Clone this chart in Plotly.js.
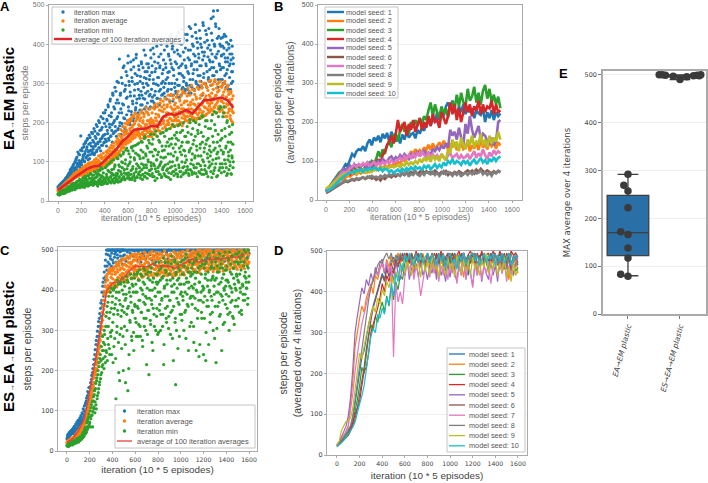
<!DOCTYPE html>
<html>
<head>
<meta charset="utf-8">
<script src="https://cdn.plot.ly/plotly-3.0.1.min.js"></script>
<style>html,body{margin:0;padding:0;background:#fff}</style>
</head>
<body>
<div id="plot" style="width:708px;height:483px"></div>
<script>
// panel A, one value every 5 iterations, the *2 arrays sit halfway between
const aMax = [36,33,38,41,35,44,39,47,42,50,45,53,48,58,52,61,55,66,59,72,
63,80,68,74,86,70,92,77,84,100,79,108,88,96,125,90,103,118,94,166,
98,128,105,114,138,102,120,148,110,132,156,116,125,145,108,162,128,140,120,172,
132,150,118,178,140,160,126,190,146,170,135,200,152,128,182,160,142,210,168,150,
225,158,190,140,205,172,240,155,196,255,165,215,180,150,270,200,175,235,190,280,
165,305,215,185,250,362,200,275,170,225,300,190,245,345,210,285,178,262,320,205,
370,230,295,195,268,335,220,305,248,360,212,283,325,238,374,260,300,225,345,270,
232,318,280,350,245,300,262,385,235,330,275,312,350,250,295,340,268,320,240,365,
285,345,255,310,375,270,330,240,298,395,262,352,315,280,340,260,375,300,410,272,
335,290,385,265,350,310,405,280,328,375,300,255,360,425,285,340,395,270,320,380,
300,410,275,350,385,295,430,325,265,370,345,400,285,320,415,305,360,280,390,340,
295,425,330,385,275,360,310,440,345,290,400,325,375,285,355,450,305,415,335,390,
295,365,435,320,400,345,290,380,455,315,370,405,300,350,425,330,390,310,440,360,
305,385,465,340,410,355,485,320,395,368,445,330,375,486,310,420,350,400,335,415,
372,310,418,340,390,300,365,420,325,385,355,295,400,345,375,285,360,330,395,305,350];
const aMax2 = [32,37,40,36,43,38,46,41,49,44,52,47,56,50,60,54,64,58,69,62,
66,76,71,82,65,88,74,95,81,70,104,85,112,92,78,120,98,86,130,102,
92,135,108,118,145,100,126,152,112,138,160,105,128,168,118,148,130,175,125,155,
138,185,122,165,145,195,130,172,150,205,136,180,158,215,142,188,165,225,148,198,
170,232,152,208,180,245,160,218,188,260,166,225,195,275,172,240,205,290,178,250,
210,258,182,302,225,192,270,235,315,198,248,340,212,280,185,295,330,220,265,352,
240,305,200,278,355,228,315,255,205,342,268,298,232,365,250,320,215,285,335,262,
305,245,355,270,225,340,290,315,260,372,240,300,330,280,350,235,310,272,385,255,
328,265,390,300,250,355,280,338,405,262,315,295,368,245,345,285,400,270,325,305,
360,275,410,300,340,260,395,315,285,370,330,418,270,350,300,388,255,335,405,290,
355,280,420,310,265,375,340,295,402,325,270,438,350,290,380,315,425,285,345,300,
410,285,365,325,445,295,385,275,350,420,310,395,335,282,370,430,300,355,405,320,
375,290,345,415,305,392,270,360,448,325,380,300,435,345,290,410,368,315,398,335,
355,295,428,375,320,470,340,400,305,452,365,330,415,290,382,440,345,310,395,370,
340,395,300,375,425,320,355,290,405,335,365,285,390,315,350,410,300,375,330,365];
const aAvg = [26,30,28,33,31,29,35,38,34,40,37,42,39,45,41,48,44,50,47,52,
48,55,50,58,53,60,56,63,58,68,60,66,62,72,65,70,64,76,68,74,
70,80,66,84,74,78,68,88,76,82,72,92,78,86,74,95,82,78,90,84,
85,76,96,88,80,100,84,92,78,104,88,95,82,110,92,86,112,90,100,96,
98,88,116,104,92,122,100,110,95,128,108,118,98,135,112,105,140,118,125,110,
122,145,115,138,155,125,148,165,130,158,140,178,135,168,150,188,145,172,155,195,
148,200,165,185,152,205,170,192,158,215,175,198,162,222,182,170,210,178,195,165,
205,160,190,225,172,200,168,215,180,195,162,228,185,205,175,220,165,198,178,210,
165,225,190,205,172,235,180,212,195,165,240,188,220,200,178,250,195,230,210,185,
255,205,235,190,262,215,195,245,225,200,258,210,185,240,222,205,268,195,232,215,
190,250,225,205,272,215,238,195,260,222,200,245,212,275,198,235,218,255,205,228,
205,268,225,245,200,280,218,252,235,208,285,225,248,212,272,230,205,260,240,220,
212,285,235,262,215,295,245,225,275,255,218,300,238,268,222,290,250,232,305,242,
228,308,255,275,232,298,262,240,305,268,225,288,250,278,235,302,262,242,292,255,
290,232,270,250,300,225,285,240,265,215,295,245,272,230,255,210,280,235,260,200,225];
const aAvg2 = [28,25,31,29,34,32,36,33,39,36,43,38,46,42,49,45,51,48,55,50,
53,59,55,62,57,65,60,70,63,67,61,74,66,71,63,78,70,66,80,72,
75,83,70,87,78,73,90,80,75,93,84,77,97,80,88,74,98,85,79,100,
90,82,105,94,84,108,90,98,86,115,92,100,88,118,96,108,92,122,100,105,
112,95,126,108,100,130,114,96,136,120,104,142,116,126,108,148,122,132,114,152,
130,160,120,150,170,128,152,182,136,162,145,190,138,175,155,198,150,180,160,205,
172,155,208,180,160,212,188,165,218,195,170,225,178,205,168,215,185,175,220,192,
170,212,185,232,175,205,160,222,188,170,238,195,178,225,165,205,185,235,172,200,
205,175,238,198,185,245,170,222,205,190,248,180,215,232,195,258,175,240,205,228,
198,245,215,262,185,225,240,205,270,195,220,250,210,272,190,235,225,260,205,245,
235,210,265,195,240,280,205,228,255,200,268,235,192,282,222,250,210,275,232,215,
255,215,288,235,205,270,245,222,295,215,258,232,205,282,245,225,265,210,290,235,
248,225,305,232,270,212,288,250,228,300,240,262,218,295,255,235,282,225,270,248,
265,235,295,250,222,285,258,238,310,245,270,225,298,255,240,282,228,305,262,235,
255,295,225,278,240,305,215,265,248,290,225,280,235,258,218,275,205,245,228,268];
const aMin = [18,16,20,22,17,24,19,26,21,28,23,25,20,30,27,33,24,36,29,32,
26,38,30,42,28,35,44,32,40,30,46,36,34,50,38,42,35,55,40,48,
38,52,42,60,36,48,56,40,62,46,52,38,65,44,58,42,50,68,46,54,
40,66,50,58,44,72,48,62,38,70,54,46,78,52,42,64,82,50,60,45,
48,85,58,68,44,92,55,75,50,98,62,46,80,70,52,105,58,88,66,50,
55,110,70,48,92,62,118,75,52,100,85,60,125,72,56,95,130,68,82,58,
128,65,95,55,112,78,135,60,88,140,70,105,58,122,82,62,145,90,68,115,
75,58,130,95,150,68,110,85,160,62,120,92,140,70,105,155,78,125,65,98,
82,145,62,115,170,90,52,130,75,105,165,85,125,68,150,95,112,60,140,80,
175,88,130,65,112,180,78,150,95,60,140,185,85,120,70,160,100,135,75,190,
90,145,70,175,110,62,155,85,195,125,75,140,100,180,68,130,88,165,115,72,
105,190,80,150,65,130,200,95,170,75,120,145,205,85,110,165,70,140,95,180,
115,75,210,135,90,175,68,150,215,100,125,80,190,145,70,205,110,160,85,130,
90,185,125,60,220,105,150,78,195,135,95,225,120,65,170,110,235,85,155,130,
180,95,215,125,240,105,165,135,85,200,70,150,115,190,100,130,70,175,110,145,100];
const aMin2 = [17,19,15,21,18,23,20,22,25,19,27,24,29,22,26,31,28,34,25,37,
30,33,41,28,37,31,45,34,29,43,37,48,33,41,36,52,39,34,47,44,
41,36,58,45,50,35,63,43,55,41,48,66,39,58,45,70,42,52,60,47,
55,42,75,49,60,46,68,41,78,52,44,66,57,85,48,62,43,72,55,46,
58,50,88,62,45,78,53,95,60,48,72,102,55,66,50,82,46,92,60,70,
64,52,108,78,58,88,50,115,68,55,98,120,62,80,54,105,70,135,60,90,
72,120,58,100,68,138,55,82,128,64,110,52,142,75,95,60,118,70,148,85,
108,65,152,80,55,125,92,62,165,72,115,85,58,135,100,68,148,78,170,90,
125,70,158,95,62,132,82,178,105,58,118,75,155,90,68,172,100,62,128,85,
110,70,165,92,140,62,182,82,120,72,158,100,55,145,88,195,75,115,65,168,
125,80,160,105,68,192,92,135,75,175,62,118,150,85,200,72,128,98,165,78,
150,88,175,70,125,208,80,135,105,68,185,92,155,72,115,200,85,130,62,172,
95,195,72,145,115,80,218,105,165,68,135,90,205,75,155,120,62,185,100,140,
115,75,205,95,165,70,130,228,85,180,108,62,150,125,215,78,140,95,240,72,
160,85,120,225,75,185,95,140,65,205,105,125,80,170,90,150,68,115,195,85];
// one value every 50 iterations
const aRolling = [28,38,50,62,73,82,88,90,103,118,132,152,165,182,183,185,192,190,215,223,219,226,232,223,240,257,258,261,264,257,238];

// panel B, one value every 18.75 iterations
const bSeeds = [
[22,28,36,44,52,58,66,72,82,92,88,105,118,112,125,130,128,138,125,145,155,140,160,152,165,148,170,158,172,150,175,160,150,162,145,168,155,175,160,168,172,158,180,170,185,178,195,205,190,210,200,225,205,235,215,240,250,230,255,235,215,240,225,245,220,240,225,235,210,230,222,218,235,200,225,210,230,205,225,215,222],
[22,25,30,36,42,46,52,55,50,58,62,60,66,70,65,72,68,74,70,78,72,80,76,82,78,85,82,88,84,90,86,92,90,98,94,104,100,112,108,125,118,130,122,128,120,135,128,142,128,145,132,138,148,135,152,140,130,145,135,148,128,138,145,130,135,150,125,140,132,148,128,155,135,142,130,150,138,145,132,148,140],
[25,30,38,46,54,62,70,74,72,78,82,76,85,80,88,84,86,92,88,96,90,100,95,105,125,110,130,118,140,150,135,165,170,150,180,195,175,190,170,200,185,205,190,210,195,215,205,230,250,215,245,225,210,240,220,235,212,245,250,235,270,240,275,250,240,285,255,265,290,250,275,245,280,295,260,285,250,270,245,265,235],
[22,26,32,38,44,50,58,62,60,68,72,66,75,70,78,74,80,76,85,80,88,84,92,88,105,95,115,125,140,150,165,145,170,205,175,190,200,165,195,180,205,175,195,210,180,200,185,215,190,220,200,205,185,225,210,195,215,250,220,245,205,235,200,225,250,225,245,215,240,230,255,220,245,225,240,235,255,220,245,225,230],
[25,30,36,44,52,58,64,72,80,75,82,88,80,92,85,90,86,92,88,84,96,90,98,92,100,95,105,100,98,108,112,102,110,105,115,108,118,112,105,120,110,116,125,112,120,128,115,122,118,130,125,135,128,140,132,145,135,180,165,175,155,185,160,140,195,170,215,180,160,175,190,155,170,165,150,145,160,140,150,200,205],
[18,20,24,28,32,36,40,42,45,48,46,50,52,50,54,52,55,58,54,57,60,55,58,52,56,50,58,54,60,62,58,64,60,65,62,68,64,70,66,72,68,74,66,72,78,68,74,70,72,68,75,70,66,72,68,74,64,70,66,72,68,74,70,66,72,76,70,75,68,78,72,80,74,70,76,72,68,74,70,75,72],
[22,26,32,40,46,52,60,68,72,70,76,82,86,90,84,92,88,94,90,96,85,92,98,88,95,90,98,92,100,94,102,96,98,104,108,100,112,105,115,108,118,110,120,112,125,115,110,122,112,118,108,115,105,118,110,102,115,120,108,112,118,105,115,108,110,118,105,115,125,108,120,112,130,115,105,122,112,128,118,125,120],
[20,22,26,30,34,38,42,44,46,50,48,52,54,52,56,54,56,58,55,60,57,62,58,60,56,62,58,64,60,66,62,68,64,66,62,70,65,72,60,68,64,72,66,62,70,64,72,68,66,72,64,70,62,68,74,66,72,68,62,70,64,72,60,68,70,64,72,66,74,68,70,76,66,72,64,70,62,72,68,74,70],
[30,32,36,42,48,54,58,62,66,68,64,72,70,74,68,76,72,78,74,70,76,72,80,76,82,78,84,80,86,82,88,84,86,90,84,92,88,98,90,96,92,100,94,105,96,108,100,112,98,115,104,110,100,118,108,102,130,120,155,135,150,125,160,140,130,155,140,165,135,150,145,170,140,155,135,165,145,160,150,175,155],
[22,24,28,32,38,42,48,54,60,64,68,70,72,70,76,74,78,72,80,76,82,78,84,80,76,82,74,80,78,72,76,70,74,78,72,80,75,82,76,84,78,86,80,84,76,88,82,90,78,86,92,82,90,84,96,88,100,94,105,92,100,96,90,102,94,100,88,98,104,92,100,108,96,102,92,106,98,110,100,108,112]
];

// panel C, one value every 5 iterations, the *2 arrays sit halfway between
const cMax = [30,38,34,42,36,45,40,48,43,52,46,55,42,60,50,58,48,65,54,70,
56,72,62,78,68,85,75,70,92,82,100,88,115,95,125,105,138,118,145,130,
125,160,140,178,150,195,170,215,190,240,205,265,230,285,250,310,270,330,295,355,
320,375,345,410,365,430,395,460,425,490,450,500,470,500,445,500,485,500,460,500,
475,500,455,500,490,500,470,500,500,480,500,462,500,495,500,475,500,500,485,500,
500,488,500,500,472,500,495,500,480,500,500,492,500,468,500,500,485,500,498,500,
490,500,500,475,500,496,500,500,482,500,470,500,500,492,500,486,500,500,478,500,
500,494,500,468,500,500,488,500,500,476,500,497,500,484,500,500,470,500,492,500,
480,500,500,490,500,472,500,500,496,500,484,500,500,466,500,494,500,478,500,500,
500,488,500,500,474,500,498,500,482,500,500,492,500,470,500,486,500,500,496,500,
500,484,500,500,495,500,476,500,500,490,500,500,482,500,498,500,472,500,500,488,
500,500,494,500,480,500,500,470,500,496,500,486,500,500,478,500,500,492,500,500,
488,500,500,476,500,498,500,500,484,500,500,492,500,470,500,500,496,500,482,500,
500,490,500,500,474,500,500,494,500,486,500,500,480,500,498,500,500,472,500,500,
492,500,500,484,500,500,496,500,476,500,500,488,500,500,470,500,494,500,500,482,
500,500,490,500,500,478,500,498,500,500,486,500,500,474,500,496,500,500,484,500,492];
const cMax2 = [33,41,36,45,39,48,42,51,45,54,49,58,44,62,53,67,50,72,57,76,
60,68,82,74,88,66,95,78,105,72,112,85,120,98,132,90,148,110,158,125,
142,170,155,188,165,205,182,228,198,252,218,275,240,298,262,322,285,342,310,368,
335,395,360,420,385,445,410,475,435,500,460,500,488,500,465,500,478,500,492,500,
500,468,500,482,500,495,460,500,488,500,500,472,500,485,500,498,500,465,500,500];
const cAvg = [20,24,22,26,23,28,25,30,27,32,29,34,30,36,33,40,35,44,38,48,
42,50,45,55,48,60,55,58,65,62,70,68,80,75,90,82,100,92,112,105,
118,135,128,150,140,170,155,190,170,205,190,225,205,240,222,262,245,280,262,305,
290,330,310,360,340,390,365,410,385,430,395,440,400,450,405,445,395,452,410,440,
415,450,405,458,420,440,410,462,425,445,415,465,430,450,420,470,435,455,425,475,
440,465,425,478,445,460,432,482,450,468,438,485,455,470,430,488,460,475,445,490,
450,475,435,488,460,442,480,455,490,465,440,478,452,486,462,435,480,458,492,448,
470,440,485,455,478,445,492,462,438,480,455,488,468,442,476,452,494,460,436,482,
456,488,465,440,480,450,492,470,444,484,458,436,478,462,490,448,472,440,486,454,
476,442,490,458,468,436,484,452,478,444,492,462,438,480,456,486,470,446,494,460,
448,482,462,496,472,444,486,456,490,468,450,498,476,454,488,464,442,482,470,494,
460,486,448,496,474,452,490,466,444,484,500,462,478,450,492,470,456,498,482,460,
488,454,496,472,448,490,466,500,480,456,494,470,452,486,498,464,476,446,492,474,
458,498,482,452,488,472,500,464,446,490,476,494,456,484,468,498,450,478,490,462,
480,500,458,486,470,494,452,482,498,466,476,490,456,488,500,472,460,496,478,452,
494,468,484,500,458,488,474,498,462,482,496,470,454,490,500,476,464,492,480,498,470];
const cAvg2 = [22,19,25,21,27,24,29,26,31,28,33,30,35,32,38,36,42,38,46,41,
45,52,48,57,52,62,58,65,60,68,72,76,70,85,78,95,88,105,98,118,
125,142,132,160,148,180,162,198,182,215,198,235,215,252,232,270,255,292,275,318,
302,345,325,375,352,398,375,420,392,435,405,425,412,442,398,455,418,432,405,448,
428,402,455,415,445,425,468,408,452,432,460,418,472,438,455,425,478,442,462,430,
452,478,435,462,420,485,448,470,438,458,480,442,465,428,490,452,472,436,482,456,
462,438,482,450,470,428,492,456,476,440,486,462,432,478,448,495,466,442,474,454,
484,450,468,436,490,460,444,478,456,496,470,434,482,452,464,440,488,458,476,446,
438,478,456,492,446,470,432,486,462,480,450,498,442,474,458,488,436,466,484,452,
468,490,448,472,440,484,460,496,454,436,478,466,488,444,470,452,492,462,480,438,
490,456,472,444,496,466,438,480,458,486,450,470,500,462,446,484,474,492,456,468,
476,498,452,482,464,490,446,472,494,458,484,468,444,500,478,454,488,466,496,472,
462,484,500,470,456,492,478,450,496,464,486,474,500,458,482,468,494,452,488,476,
482,464,490,456,500,474,452,486,470,498,460,480,492,466,448,496,476,488,458,500,
456,490,474,500,466,484,496,460,478,492,470,500,454,488,464,498,482,458,494,472,
486,470,500,462,490,478,456,498,474,484,494,464,500,480,468,492,476,500,466,488];
const cMin = [14,12,16,18,13,20,15,17,22,16,24,19,21,18,26,22,28,24,30,26,
22,32,26,35,28,38,30,42,34,48,38,55,42,60,46,52,75,58,85,65,
70,100,80,115,90,60,125,105,140,95,155,115,175,130,190,145,210,165,230,180,
225,195,250,215,270,205,290,235,310,250,345,225,370,265,330,240,395,285,355,300,
385,220,340,405,280,365,130,395,310,350,415,195,375,290,420,335,255,400,360,200,
420,310,375,170,390,340,425,150,360,240,405,320,385,430,275,350,410,295,440,365,
330,415,285,395,445,355,315,425,375,285,440,345,400,260,420,370,310,450,385,330,
215,405,350,445,190,380,425,315,455,365,400,250,430,340,465,385,300,420,355,440,
395,295,450,365,425,340,460,380,310,435,215,405,470,355,445,320,415,385,460,335,
440,375,290,465,410,350,430,225,395,470,320,165,445,380,425,255,455,365,415,340,
470,395,325,440,375,460,415,345,480,280,430,390,455,360,420,475,310,445,385,410,
365,465,405,270,445,380,430,250,475,395,350,455,235,420,485,375,440,330,465,400,
240,455,385,430,225,470,360,410,445,265,395,480,340,425,460,375,430,300,455,390,
425,470,220,395,445,360,480,415,335,455,390,465,250,430,375,485,405,320,450,410,
390,460,425,340,475,300,410,445,370,485,395,335,455,430,315,470,405,375,440,490,
360,465,420,345,480,395,450,340,490,410,375,470,435,390,495,420,405,460,380,500,435];
const cMin2 = [13,15,11,17,14,19,16,18,21,15,23,20,18,25,22,27,20,29,25,32,
24,29,34,27,36,31,40,33,46,36,50,44,58,48,70,54,80,62,92,72,
85,60,108,88,122,98,135,110,150,122,168,105,182,138,200,155,220,172,240,190,
260,210,285,230,250,300,265,220,335,245,360,280,310,385,255,345,295,405,240,370,
320,400,260,355,410,230,380,295,425,340,270,395,175,365,415,305,350,430,285,390,
345,410,265,380,435,300,355,420,205,395,325,440,370,285,415,345,395,250,430,360,
395,320,440,360,285,425,375,450,310,405,345,435,275,390,455,330,415,365,300,440,
380,290,430,350,460,400,325,445,375,270,420,355,465,310,405,385,440,335,415,290,
420,470,350,395,300,455,375,430,340,480,265,410,385,450,330,425,360,470,305,440,
375,425,345,485,395,280,455,360,415,475,330,440,300,405,465,370,430,285,450,390,
415,340,475,385,440,300,460,395,350,490,420,365,445,250,405,470,380,435,320,455,
440,385,310,470,415,355,480,400,445,330,490,375,420,265,460,395,345,475,410,370,
405,330,465,440,295,480,375,425,360,490,400,320,455,385,470,345,435,495,410,280,
360,480,430,305,460,395,445,370,490,340,420,475,385,455,315,440,400,495,365,425,
450,355,480,420,385,495,345,465,405,440,375,485,330,455,415,360,490,400,435,470,
425,380,495,440,405,470,350,485,415,390,460,500,375,445,430,405,480,365,455,420];
// one value every 50 iterations
const cRolling = [22,30,50,78,150,225,315,400,418,420,432,448,460,459,458,466,460,461,460,455,462,470,478,470,472,477,476,478,480,482,483,488];

// panel D, one value every 20 iterations
const dSeeds = [
[22,28,34,42,50,58,70,92,125,165,205,240,255,290,320,345,365,385,400,425,445,430,460,445,475,485,465,490,470,495,480,495,470,490,460,485,495,470,490,465,495,475,490,460,485,495,470,490,480,460,490,470,495,480,465,490,495,475,440,485,495,470,490,480,495,465,490,475,495,470,490,480,495,465,490,475,495,470,485,490,480],
[24,30,38,48,58,72,125,180,265,305,335,365,350,385,400,420,395,440,430,455,470,445,480,460,490,465,485,495,470,480,495,465,485,470,450,490,475,460,495,470,485,460,495,475,445,490,470,485,460,495,475,450,490,465,495,470,435,485,460,490,470,495,445,480,465,490,475,455,485,470,490,465,480,455,490,470,430,475,440,480,445],
[22,28,34,40,48,55,62,80,105,135,170,215,200,250,290,320,305,340,325,355,375,350,390,365,410,380,425,405,440,430,470,490,475,495,465,485,470,495,480,460,490,475,495,460,485,470,495,480,450,490,470,495,485,460,490,475,495,465,485,470,495,480,460,490,470,495,475,450,485,495,465,490,475,495,455,480,495,465,470,450,460],
[22,26,32,38,42,50,65,78,100,118,130,170,205,215,250,300,320,335,360,385,420,400,440,425,455,445,470,460,480,490,485,495,470,490,480,500,475,495,485,465,495,480,490,470,495,475,500,485,460,495,480,495,470,490,500,475,495,460,490,500,485,470,495,480,500,475,490,495,465,500,490,475,500,485,465,495,480,500,490,495,485],
[24,32,44,55,70,95,140,210,300,340,375,410,395,430,415,445,425,460,440,470,480,445,465,435,455,425,475,445,430,465,440,480,430,460,445,470,435,475,440,460,430,465,445,475,430,485,440,460,425,470,435,480,445,425,470,440,490,430,465,445,415,470,440,480,425,465,445,430,475,440,465,425,480,445,470,435,460,475,440,470,465],
[20,26,32,38,42,48,58,72,88,115,145,180,215,260,300,330,360,380,405,420,440,425,455,440,470,450,480,465,490,475,490,470,485,495,465,480,490,470,485,460,490,475,465,495,480,470,490,460,485,495,470,485,455,490,475,495,465,480,490,470,480,495,465,485,470,490,475,460,495,480,470,490,455,480,495,465,485,450,475,490,470],
[22,30,38,46,56,70,105,150,205,250,285,320,345,375,395,415,435,450,440,460,470,450,475,445,465,240,420,375,400,370,435,470,445,480,430,465,440,390,425,460,475,435,470,445,480,425,465,440,475,430,465,445,480,420,460,440,475,430,465,450,410,470,440,480,430,465,445,475,420,460,485,435,470,445,480,425,465,440,475,485,480],
[24,30,36,44,52,62,72,95,135,180,225,265,300,340,380,410,430,445,465,475,470,485,495,480,495,470,490,475,495,480,495,475,490,465,485,495,470,490,480,460,490,470,495,480,460,490,475,495,465,485,495,470,485,460,490,475,495,480,465,490,475,495,460,485,470,495,480,450,490,475,495,465,485,470,490,455,480,495,470,485,465],
[26,34,60,72,82,85,90,115,160,215,250,235,270,295,320,345,365,350,385,370,405,390,425,410,440,420,450,435,455,470,445,475,460,440,480,455,470,435,485,450,475,440,490,455,470,435,480,460,440,485,455,475,435,490,465,445,480,450,475,440,485,455,470,440,480,460,495,445,475,455,480,440,470,450,485,435,460,425,470,440,455],
[20,24,30,36,44,50,58,68,80,105,125,145,170,210,250,290,310,300,345,335,360,345,385,370,420,390,445,425,470,450,490,475,495,480,465,490,475,495,470,485,495,470,490,480,465,495,475,490,460,485,495,470,480,455,490,475,495,465,485,490,495,475,490,465,480,495,470,490,480,495,465,490,475,495,470,485,495,465,480,490,485]
];

// panel E
const eFences = [[80, 292], [490, 500]];
const eQuartiles = [[122, 170, 248], [496, 498, 500]];
const eValues = [292,269,257,222,172,166,138,117,83,79, 500,500,499,497,490,496,498,499,500,498];
const eSwarm = [0,-0.08,0,0,-0.14,0,0,0,-0.14,0, -0.4,-0.34,-0.28,-0.13,0,0.13,0.26,0.33,0.4,0.37];
const eGroups = [0,0,0,0,0,0,0,0,0,0, 1,1,1,1,1,1,1,1,1,1];
const eLabels = ["EA→EM plastic", "ES→EA→EM plastic"];

const seedNames = ["model seed: 1","model seed: 2","model seed: 3","model seed: 4","model seed: 5","model seed: 6","model seed: 7","model seed: 8","model seed: 9","model seed: 10"];
const iterNames = ["iteration max","iteration average","iteration min","average of 100 iteration averages"];
const tab10 = ["#1f77b4","#ff7f0e","#2ca02c","#d62728","#9467bd","#8c564b","#e377c2","#7f7f7f","#bcbd22","#17becf"];
const iterationTicks = [0,200,400,600,800,1000,1200,1400,1600];
const stepTicks = [0,100,200,300,400,500];

const W = 708, H = 483;
const shapes = [], annotations = [];

function dots(name, y, x0, color, xa, ya) {
  return {type: "scatter", mode: "markers", name: name, y: y, x0: x0, dx: 5, xaxis: xa, yaxis: ya,
    marker: {color: color, size: 3.2}};
}
function line(name, y, dx, color, width, xa, ya) {
  return {type: "scatter", mode: "lines", name: name, y: y, x0: 0, dx: dx, xaxis: xa, yaxis: ya,
    line: {color: color, width: width}};
}

const traces = [
  dots(iterNames[0], aMax, 0, tab10[0], "x", "y"),
  dots(iterNames[0], aMax2, 2.5, tab10[0], "x", "y"),
  dots(iterNames[1], aAvg, 0, tab10[1], "x", "y"),
  dots(iterNames[1], aAvg2, 2.5, tab10[1], "x", "y"),
  dots(iterNames[2], aMin, 0, tab10[2], "x", "y"),
  dots(iterNames[2], aMin2, 2.5, tab10[2], "x", "y"),
  line(iterNames[3], aRolling, 50, "#e0242c", 2.6, "x", "y"),
  dots(iterNames[0], cMax, 0, tab10[0], "x3", "y3"),
  dots(iterNames[0], cMax2, 2.5, tab10[0], "x3", "y3"),
  dots(iterNames[1], cAvg, 0, tab10[1], "x3", "y3"),
  dots(iterNames[1], cAvg2, 2.5, tab10[1], "x3", "y3"),
  dots(iterNames[2], cMin, 0, tab10[2], "x3", "y3"),
  dots(iterNames[2], cMin2, 2.5, tab10[2], "x3", "y3"),
  line(iterNames[3], cRolling, 50, "#e8403c", 1.4, "x3", "y3")
];
bSeeds.forEach((y, i) => traces.push(line(seedNames[i], y, 18.75, tab10[i], 2.6, "x2", "y2")));
dSeeds.forEach((y, i) => traces.push(line(seedNames[i], y, 20, tab10[i], 1.2, "x4", "y4")));

// panel E box drawn from the read quartiles
traces.push({type: "box", x: [0, 1], q1: eQuartiles.map(q => q[0]), median: eQuartiles.map(q => q[1]), q3: eQuartiles.map(q => q[2]),
  lowerfence: eFences.map(f => f[0]), upperfence: eFences.map(f => f[1]), width: 0.8, whiskerwidth: 0.5,
  xaxis: "x5", yaxis: "y5", boxpoints: false, fillcolor: "#2a6fa5", line: {color: "#3f3f3f", width: 1.3}});
traces.push({type: "scatter", mode: "markers", x: eGroups.map((g, i) => g + eSwarm[i]), y: eValues, xaxis: "x5", yaxis: "y5",
  marker: {color: "#3a3a3a", size: 7.5}});

function xAxis(left, right, range, anchor, font, tickSize, titleSize, standoff, color) {
  return {domain: [left / W, right / W], range: range, anchor: anchor, tickvals: iterationTicks, showgrid: false, zeroline: false,
    ticks: "outside", ticklen: 2, tickcolor: "#aaa", tickfont: {family: font, size: tickSize, color: color},
    showline: true, mirror: true, linecolor: "#aaa", linewidth: 1.2,
    title: {text: "iteration (10 * 5 episodes)", font: {family: "Liberation Sans", size: titleSize, color: color}, standoff: standoff}};
}
function yAxis(top, bottom, range, anchor, font, tickSize, title, titleSize, standoff, color) {
  return {domain: [1 - bottom / H, 1 - top / H], range: range, anchor: anchor, tickvals: stepTicks, gridcolor: "#efefef", gridwidth: 1, zeroline: false,
    ticks: "outside", ticklen: 2, tickcolor: "#aaa", tickfont: {family: font, size: tickSize, color: color},
    showline: true, mirror: true, linecolor: "#aaa", linewidth: 1.2,
    title: {text: title, font: {family: "Liberation Sans", size: titleSize, color: color}, standoff: standoff}};
}
function label(text, x, y, size, color, extra) {
  annotations.push(Object.assign({text: text, x: x / W, y: 1 - y / H, xref: "paper", yref: "paper", showarrow: false,
    xanchor: "center", yanchor: "middle", borderpad: 0,
    font: {family: "Liberation Sans", size: size, color: color}}, extra || {}));
}
function paperShape(kind, x0, y0, x1, y1, fill, lineColor, lineWidth) {
  shapes.push({type: kind, xref: "paper", yref: "paper", layer: "above", x0: x0 / W, x1: x1 / W, y0: 1 - y0 / H, y1: 1 - y1 / H,
    fillcolor: fill, line: {color: lineColor, width: lineWidth}});
}
// plotly legends force 19px rows, these need 9-10px, so the legends are drawn by hand
function legendBlock(box, keyX0, keyX1, textX, rowY, rowH, size, names, colors, width, markerRows) {
  paperShape("rect", box[0], box[1], box[2], box[3], "rgba(255,255,255,0.92)", "#c4c4c4", 1);
  names.forEach((name, i) => {
    const y = rowY + i * rowH;
    if (markerRows && i < markerRows) {
      const c = (keyX0 + keyX1) / 2;
      paperShape("circle", c - 1.7, y - 1.7, c + 1.7, y + 1.7, colors[i], colors[i], 0);
    } else {
      paperShape("line", keyX0, y, keyX1, y, null, colors[i], width);
    }
    label(name, textX, y, size, "#555", {xanchor: "left"});
  });
}

legendBlock([52, 7, 184, 44], 54, 72, 73, 12, 9, 7.2, iterNames, [tab10[0], tab10[1], tab10[2], "#e0242c"], 2.4, 3);
legendBlock([325, 7, 398, 98], 327, 344, 345, 12, 9, 7.3, seedNames, tab10, 2.4, 0);
legendBlock([115, 405, 255, 448], 117, 132, 136, 411, 10, 7.5, iterNames, [tab10[0], tab10[1], tab10[2], "#e8403c"], 1.3, 3);
legendBlock([447, 348, 525, 452], 449, 465, 468, 354, 10.2, 7.3, seedNames, tab10, 1.3, 0);

const arrow = '<span style="font-size:8px">→</span>';
const twoLine = "steps per episode<br>(averaged over 4 iterations)";

[["A", 5, 7], ["B", 278, 7], ["C", 5, 250], ["D", 278, 250], ["E", 563, 73]].forEach(p => label("<b>" + p[0] + "</b>", p[1], p[2], 13, "#000"));
label("<b>EA" + arrow + "EM plastic</b>", 8, 99, 15, "#000", {textangle: -90});
label("<b>ES" + arrow + "EA" + arrow + "EM plastic</b>", 8, 347, 15, "#000", {textangle: -90});

const layout = {
  width: W, height: H, margin: {l: 0, r: 0, t: 0, b: 0}, paper_bgcolor: "#fff", plot_bgcolor: "#fff", showlegend: false,
  xaxis: xAxis(49, 253, [-77, 1668], "y", "Liberation Sans", 7, 8.8, 2, "#777"),
  yaxis: yAxis(5, 201, [0, 500], "x", "Liberation Sans", 7, "steps per episode", 9.5, 2, "#777"),
  xaxis2: xAxis(318, 522, [-69, 1686], "y2", "Liberation Sans", 7, 8.8, 2, "#777"),
  yaxis2: yAxis(5, 200, [0, 500], "x2", "Liberation Sans", 7, twoLine, 10, 5, "#555"),
  xaxis3: xAxis(58, 257, [-79, 1670], "y3", "DejaVu Sans", 6.2, 9.9, 4, "#444"),
  yaxis3: yAxis(247, 451, [0, 507.5], "x3", "DejaVu Sans", 6.5, "steps per episode", 10.5, 7, "#444"),
  xaxis4: xAxis(327, 527, [-88, 1680], "y4", "DejaVu Sans", 6.2, 9.9, 6, "#444"),
  yaxis4: yAxis(251, 455, [0, 500], "x4", "DejaVu Sans", 6.5, twoLine, 10.5, 6, "#444"),
  xaxis5: {domain: [603 / W, 706 / W], range: [-0.48, 1.5], anchor: "y5", tickvals: [0, 1], ticktext: eLabels, tickangle: -75, showgrid: false, zeroline: false,
    ticks: "outside", ticklen: 3, tickcolor: "#777", tickfont: {family: "DejaVu Sans", size: 7.5, color: "#444", style: "italic"},
    showline: true, mirror: true, linecolor: "#aaa", linewidth: 1.5},
  yaxis5: {domain: [1 - 314 / H, 1 - 71 / H], range: [0, 508], anchor: "x5", tickvals: stepTicks, gridcolor: "#efefef", zeroline: false,
    ticks: "outside", ticklen: 3, tickcolor: "#777", tickfont: {family: "DejaVu Sans", size: 6.5, color: "#444"},
    showline: true, mirror: true, linecolor: "#aaa", linewidth: 1.5,
    title: {text: "MAX average over 4 iterations", font: {family: "DejaVu Sans", size: 8.5, color: "#444"}, standoff: 13}},
  shapes: shapes,
  annotations: annotations
};

Plotly.newPlot("plot", traces, layout, {displayModeBar: false});
</script>
</body>
</html>
